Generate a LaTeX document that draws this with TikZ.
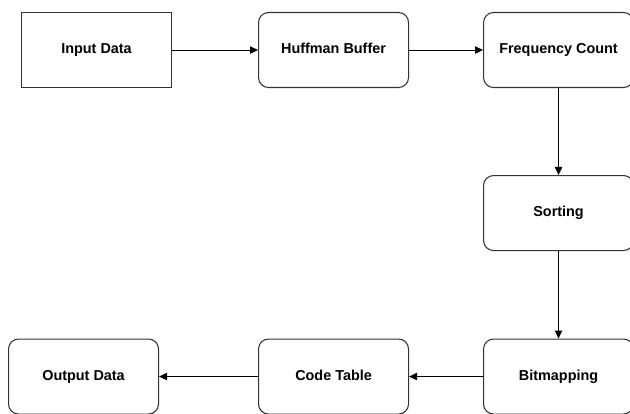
\documentclass[tikz,border=0pt]{standalone}
\usepackage{fontspec}
\setmainfont{Liberation Sans}
\usetikzlibrary{arrows.meta}
\begin{document}
\begin{tikzpicture}[x=0.75pt,y=-0.75pt,
  box/.style={draw=black!80, line width=0.8pt, minimum width=150*0.75pt, minimum height=75*0.75pt, inner sep=0pt, text height=0.72em, text depth=0.2em, font=\bfseries\fontsize{10.8}{12}\selectfont, anchor=north west},
  rbox/.style={box, rounded corners=7.5pt},
  conn/.style={draw=black, line width=0.75pt, -{Triangle[length=6pt,width=5.5pt]}}]
\useasboundingbox (0,0) rectangle (630,413);
\node[box]  (input) at (21,12) {Input Data};
\node[rbox] (huff)  at (258,12) {Huffman Buffer};
\node[rbox] (freq)  at (483,12) {Frequency Count};
\node[rbox] (sort)  at (483,175) {Sorting};
\node[rbox] (bit)   at (483,338.5) {Bitmapping};
\node[rbox] (code)  at (258,338.5) {Code Table};
\node[rbox] (out)   at (8,338.5) {Output Data};
\draw[conn] (input) -- (huff);
\draw[conn] (huff) -- (freq);
\draw[conn] (freq) -- (sort);
\draw[conn] (sort) -- (bit);
\draw[conn] (bit) -- (code);
\draw[conn] (code) -- (out);
\end{tikzpicture}
\end{document}
